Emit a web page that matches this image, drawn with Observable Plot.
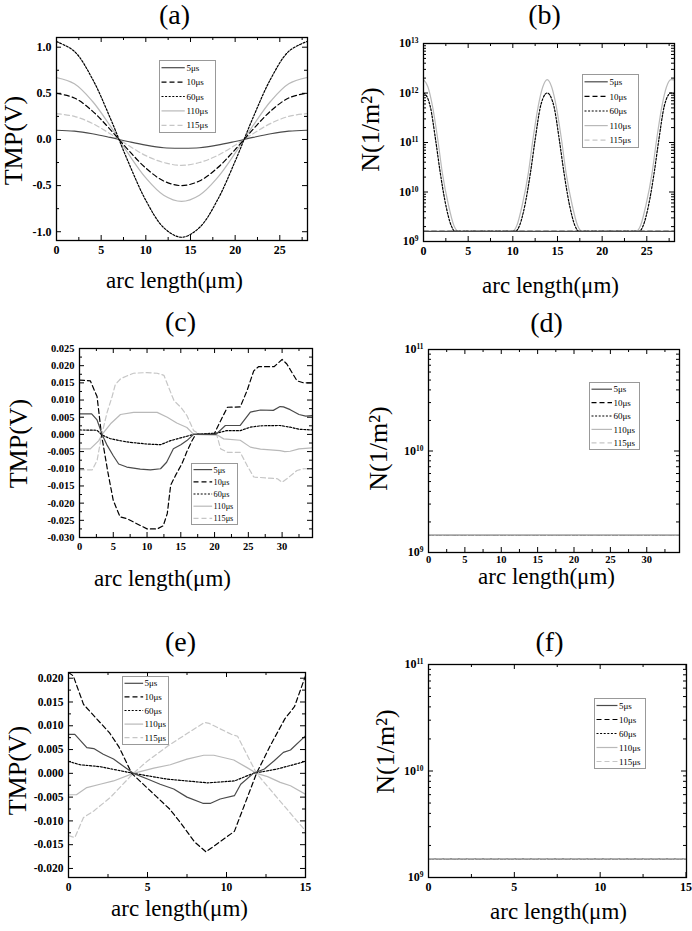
<!DOCTYPE html>
<html><head><meta charset="utf-8">
<script src="https://cdn.jsdelivr.net/npm/d3@7"></script>
<script src="https://cdn.jsdelivr.net/npm/@observablehq/plot@0.6"></script>
<style>
body{margin:0;background:#fff;}
#fig{position:relative;width:692px;height:931px;overflow:hidden;background:#fff;}
.panel,.legend{position:absolute;}
</style></head><body><div id="fig"></div>
<script>
// ---------- series definitions ----------
const seriesNames = ["5μs", "10μs", "60μs", "110μs", "115μs"];
const seriesColors = ["#4a4a4a", "#000000", "#000000", "#b9b9b9", "#c6c6c6"];
const seriesDash = [undefined, "5,3", "2,1.6", undefined, "5,3"];

// ---------- panel (a): TMP vs arc length, 28 µm ----------
const aX = [0, 2, 4, 6, 8, 10, 12, 14, 16, 18, 20, 22, 24, 26, 28];
const a5 = [0.10, 0.09, 0.062, 0.022, -0.022, -0.062, -0.09, -0.095, -0.09, -0.062, -0.022, 0.022, 0.062, 0.09, 0.10];
const a10 = [0.50, 0.45, 0.31, 0.11, -0.11, -0.31, -0.45, -0.50, -0.45, -0.31, -0.11, 0.11, 0.31, 0.45, 0.50];
const a60 = [1.06, 0.955, 0.66, 0.236, -0.236, -0.66, -0.955, -1.06, -0.955, -0.66, -0.236, 0.236, 0.66, 0.955, 1.06];
const a110 = [0.67, 0.604, 0.417, 0.149, -0.149, -0.417, -0.604, -0.67, -0.604, -0.417, -0.149, 0.149, 0.417, 0.604, 0.67];
const a115 = [0.28, 0.25, 0.175, 0.062, -0.062, -0.175, -0.25, -0.28, -0.25, -0.175, -0.062, 0.062, 0.175, 0.25, 0.28];

// ---------- panel (b): N vs arc length (log) ----------
const b110 = [[0,1.86e12],[0.5,1.32e12],[1.0,5.5e11],[1.6,1.15e11],[2.1,2.5e10],[2.8,5.4e9],[3.4,2.1e9],[3.9,1.6e9],
  [9.95,1.6e9],[10.45,2.1e9],[11.05,5.4e9],[11.75,2.5e10],[12.25,1.15e11],[12.85,5.5e11],[13.35,1.32e12],[13.85,1.86e12],
  [14.35,1.32e12],[14.85,5.5e11],[15.45,1.15e11],[15.95,2.5e10],[16.65,5.4e9],[17.25,2.1e9],[17.75,1.6e9],
  [23.8,1.6e9],[24.3,2.1e9],[24.9,5.4e9],[25.6,2.5e10],[26.1,1.15e11],[26.7,5.5e11],[27.2,1.32e12],[27.7,1.86e12],[28.1,1.84e12]];
const b60 = [[0,1e12],[0.5,7.6e11],[0.75,5.4e11],[1.35,1.15e11],[1.87,2.5e10],[2.5,5.4e9],[3.1,2.1e9],[3.55,1.6e9],
  [10.3,1.6e9],[10.75,2.1e9],[11.35,5.4e9],[11.98,2.5e10],[12.5,1.15e11],[13.1,5.4e11],[13.35,7.6e11],[13.85,1e12],
  [14.35,7.6e11],[14.6,5.4e11],[15.2,1.15e11],[15.72,2.5e10],[16.35,5.4e9],[16.95,2.1e9],[17.4,1.6e9],
  [24.15,1.6e9],[24.6,2.1e9],[25.2,5.4e9],[25.83,2.5e10],[26.35,1.15e11],[26.95,5.4e11],[27.2,7.6e11],[27.7,1e12],[28.1,9.5e11]];
const b5 = [[0,1.6e9],[28.1,1.6e9]];
const b10 = [[0,1.6e9],[28.1,1.6e9]];
const b115 = [[0,1.6e9],[28.1,1.6e9]];

// ---------- panel (c): TMP vs arc length, 34.5 µm ----------
const c5 = [[0,0.006],[1.8,0.006],[2.6,0.0042],[3.35,0.0],[4.1,-0.0032],[5,-0.0062],[5.8,-0.0086],[7,-0.0095],[9,-0.0101],[10.5,-0.0103],[12,-0.0100],[12.9,-0.0081],[13.9,-0.0042],[15,-0.003],[15.9,-0.0018],[16.9,0.0],[20.2,0.0],[21.6,0.0026],[23.8,0.0026],[25.3,0.0065],[26.8,0.0071],[28.7,0.007],[29.7,0.0081],[30.2,0.008],[31.2,0.0072],[32.5,0.0058],[33.5,0.0053],[34.5,0.0055]];
const c10 = [[0,0.0158],[1.6,0.0156],[2.6,0.011],[3.25,0.0],[4.2,-0.011],[5.0,-0.0192],[6.0,-0.024],[7.0,-0.0245],[8.0,-0.0255],[10,-0.0275],[11.5,-0.0275],[12.4,-0.0266],[13,-0.023],[13.5,-0.0148],[14.2,-0.012],[15.2,-0.0084],[15.9,-0.005],[16.7,-0.0017],[17.2,0.0],[19.9,0.0],[20.9,0.004],[21.9,0.0079],[23.8,0.008],[24.8,0.0127],[25.8,0.0185],[26.5,0.0197],[28.8,0.0197],[30,0.0218],[30.7,0.0205],[32.2,0.0156],[33.2,0.015],[34.5,0.015]];
const c60 = [[0,0.0013],[2.6,0.0012],[3.35,-0.0002],[4.5,-0.0012],[5.9,-0.0018],[7.4,-0.0023],[10,-0.0028],[12,-0.003],[13.5,-0.0018],[15.4,-0.0008],[16.9,0.0],[20.4,0.0004],[21.8,0.0011],[23.8,0.0011],[25.3,0.0021],[26.8,0.0025],[29.7,0.0026],[31.2,0.0021],[32.5,0.0015],[34.5,0.0013]];
const c110 = [[0,-0.0042],[1.6,-0.0042],[2.86,-0.0018],[3.35,0.0],[4.6,0.0031],[6.07,0.0058],[8,0.0064],[11.5,0.0064],[13,0.005],[14.4,0.0033],[15.9,0.002],[16.9,0.0],[20.4,-0.0002],[21.35,-0.0013],[23.8,-0.0017],[25.3,-0.0037],[26.8,-0.0043],[29.7,-0.0047],[30.4,-0.005],[31.2,-0.0049],[32.5,-0.0042],[34.5,-0.0039]];
const c115 = [[0,-0.0103],[1.9,-0.0103],[2.6,-0.0076],[3.3,0.0],[4.1,0.0065],[4.8,0.0108],[5.3,0.0145],[6.1,0.0162],[7,0.017],[8,0.0178],[10,0.018],[11.5,0.0178],[12.5,0.0172],[13.2,0.0137],[14,0.0098],[15,0.0079],[15.9,0.0055],[16.9,0.0011],[17.9,0.0],[20.3,0.0],[20.9,-0.0042],[21.9,-0.0052],[23.8,-0.0052],[24.8,-0.009],[25.8,-0.0124],[29.3,-0.0129],[30,-0.0139],[30.7,-0.0129],[32.2,-0.0105],[33.2,-0.01],[34.5,-0.01]];

// ---------- panel (d): N (log), all at floor ----------
const dFloor = [[0,1.5e9],[34.5,1.5e9]];

// ---------- panel (e): TMP vs arc length, 15 µm ----------
const e5 = [[0,0.0082],[0.4,0.0082],[1.16,0.0054],[1.6,0.0052],[2.2,0.004],[2.85,0.003],[4.1,0.0],[5,-0.0012],[5.8,-0.0023],[6.66,-0.0033],[7.5,-0.005],[8.5,-0.0063],[9,-0.0063],[9.6,-0.0054],[10.5,-0.0047],[10.9,-0.0023],[11.7,0.0],[12.4,0.0009],[13,0.0026],[13.6,0.0044],[14.05,0.0049],[15,0.0079]];
const e10 = [[0,0.0212],[0.3,0.0205],[0.95,0.0145],[2.6,0.0085],[3.2,0.0055],[4.0,0.0],[5.6,-0.005],[6.4,-0.0075],[7.0,-0.01],[8.0,-0.0145],[8.7,-0.0165],[10.5,-0.0122],[11.9,0.0],[12.8,0.006],[13.7,0.0115],[14.3,0.014],[15,0.0205]];
const e60 = [[0,0.0025],[0.74,0.0018],[2,0.0014],[4.1,0.0],[6.2,-0.0012],[8.8,-0.002],[10.5,-0.0016],[11.7,0.0],[13.2,0.0009],[15,0.0025]];
const e110 = [[0,-0.0045],[0.5,-0.0045],[1.16,-0.003],[2,-0.0023],[2.85,-0.0016],[4.1,0.0],[5.4,0.0011],[6.44,0.0018],[7.5,0.003],[8.56,0.0038],[9.2,0.0038],[10.46,0.0028],[11.3,0.0012],[11.9,0.0],[12.6,-0.0007],[13.4,-0.0019],[14.05,-0.0026],[15,-0.0044]];
const e115 = [[0,-0.0131],[0.4,-0.0135],[0.95,-0.0093],[1.6,-0.0079],[2.64,-0.0051],[4.1,0.0],[5.0,0.0026],[6.4,0.006],[8.6,0.0107],[8.9,0.0105],[10.3,0.0082],[10.7,0.0078],[11.9,0.0],[13.2,-0.0051],[15,-0.0121]];

// ---------- panel (f): N (log), all at floor ----------
const fFloor = [[0,1.5e9],[15.03,1.5e9]];

// ---------- ticks ----------
const xTicks28 = [0, 5, 10, 15, 20, 25];
const xMinor28 = [2.5, 7.5, 12.5, 17.5, 22.5, 27.5];
const yTicksA = [-1.0, -0.5, 0.0, 0.5, 1.0];
const yMinorA = [-0.75, -0.25, 0.25, 0.75];
const xTicks34 = [0, 5, 10, 15, 20, 25, 30];
const xMinor34 = [2.5, 7.5, 12.5, 17.5, 22.5, 27.5, 32.5];
const yTicksC = [-0.030, -0.025, -0.020, -0.015, -0.010, -0.005, 0.000, 0.005, 0.010, 0.015, 0.020, 0.025];
const yMinorC = [-0.0275, -0.0225, -0.0175, -0.0125, -0.0075, -0.0025, 0.0025, 0.0075, 0.0125, 0.0175, 0.0225];
const xTicks15 = [0, 5, 10, 15];
const xMinor15 = [2.5, 7.5, 12.5];
const yTicksE = [-0.020, -0.015, -0.010, -0.005, 0.000, 0.005, 0.010, 0.015, 0.020];
const yMinorE = [-0.0175, -0.0125, -0.0075, -0.0025, 0.0025, 0.0075, 0.0125, 0.0175];
const yTicksB = [1e9, 1e10, 1e11, 1e12, 1e13];
const yTicksDF = [1e9, 1e10, 1e11];

const xLabel = "arc length(μm)";
const yLabelTMP = "TMP(V)";
const yLabelN = "N(1/m²)";

// ---------- helpers ----------
const FONT = "'Liberation Serif','Times New Roman',serif";
const fig = d3.select("#fig");
const pairs = (xs, ys) => xs.map((x, i) => [x, ys[i]]);
const logMinor = (majors) => majors.slice(0, -1).flatMap(d => [2,3,4,5,6,7,8,9].map(k => k * d));
const fmtLog = d => "10^" + Math.round(Math.log10(d));

function panel(cfg) {
  const {left, top, width, height, m} = cfg;
  const fw = width - m.l - m.r, fh = height - m.t - m.b;
  const marks = [];
  cfg.order.forEach(k => {
    marks.push(Plot.line(cfg.series[k], {
      x: d => d[0], y: d => d[1], stroke: seriesColors[k], strokeWidth: 1.2,
      strokeDasharray: seriesDash[k], curve: cfg.curve || "linear", clip: true
    }));
  });
  const tickSet = (vals, len) => [
    Plot.tickX(vals.x, {x: d => d, insetTop: fh - len, stroke: "#000", strokeWidth: 1}),
    Plot.tickX(vals.x, {x: d => d, insetBottom: fh - len, stroke: "#000", strokeWidth: 1}),
    Plot.tickY(vals.y, {y: d => d, insetRight: fw - len, stroke: "#000", strokeWidth: 1}),
    Plot.tickY(vals.y, {y: d => d, insetLeft: fw - len, stroke: "#000", strokeWidth: 1})
  ];
  marks.push(...tickSet({x: cfg.xMajor, y: cfg.yMajor}, 5));
  marks.push(...tickSet({x: cfg.xMinor, y: cfg.yMinor}, 3));
  marks.push(Plot.frame({stroke: "#000", strokeWidth: 1.3}));
  marks.push(Plot.axisX({ticks: cfg.xMajor, tickSize: 0, tickPadding: cfg.xPad || 5, tickFormat: d => String(d),
    fontSize: cfg.tickFont, fontWeight: "bold", fontFamily: FONT, label: null}));
  marks.push(Plot.axisY({ticks: cfg.yMajor, tickSize: 0, tickPadding: 5, tickFormat: cfg.yFormat,
    fontSize: cfg.yTickFont || cfg.tickFont, fontWeight: "bold", fontFamily: FONT, label: null}));
  const fcx = m.l + fw / 2, fcy = m.t + fh / 2;
  const centered = {lineAnchor: "middle", textAnchor: "middle", fontFamily: FONT, fill: "#000"};
  marks.push(Plot.text([cfg.title], {text: d => d, frameAnchor: "top", ...centered,
    dx: cfg.titlePos[0] - left - fcx, dy: cfg.titlePos[1] - top - m.t, fontSize: 28}));
  marks.push(Plot.text([xLabel], {text: d => d, frameAnchor: "bottom", ...centered,
    dx: cfg.xLabPos[0] - left - fcx, dy: cfg.xLabPos[1] - top - (height - m.b), fontSize: 23}));
  marks.push(Plot.text([cfg.yLabel], {text: d => d, frameAnchor: "left", rotate: -90, ...centered,
    dx: cfg.yLabPos[0] - left - m.l, dy: cfg.yLabPos[1] - top - fcy, fontSize: 26}));

  const svg = Plot.plot({
    width, height, marginLeft: m.l, marginRight: m.r, marginTop: m.t, marginBottom: m.b,
    x: {domain: cfg.xDomain, axis: null},
    y: {domain: cfg.yDomain, type: cfg.log ? "log" : "linear", axis: null},
    style: {fontFamily: FONT, background: "transparent", overflow: "visible", color: "#000"},
    marks
  });
  const sel = d3.select(svg);
  sel.selectAll("g[aria-label$='tick label']").attr("font-weight", "bold").style("font-weight", "bold")
    .attr("fill", "#000").selectAll("text").style("font-weight", "bold");
  sel.selectAll("text").each(function() {
    const t = this.textContent;
    if (t.includes("^")) {
      const [b, e] = t.split("^");
      const s = d3.select(this);
      s.text(null);
      s.append("tspan").text(b);
      s.append("tspan").attr("dy", "-0.55em").attr("font-size", "0.62em").text(e);
    }
  });
  fig.append("div").attr("class", "panel").style("left", left + "px").style("top", top + "px").node().appendChild(svg);
}

function legend(box) {
  const [x, y, w, h] = box;
  const svg = fig.append("svg").attr("class", "legend")
    .style("left", x + "px").style("top", y + "px").attr("width", w + 1).attr("height", h + 1);
  svg.append("rect").attr("x", 0.5).attr("y", 0.5).attr("width", w).attr("height", h)
    .attr("fill", "#fff").attr("stroke", "#999").attr("stroke-width", 1);
  const fs = Math.min(9, h / 5 * 0.68);
  seriesNames.forEach((n, i) => {
    const cy = 0.5 + h * (i + 0.5) / 5;
    svg.append("line").attr("x1", 2.5).attr("x2", w * 0.46).attr("y1", cy).attr("y2", cy)
      .attr("stroke", seriesColors[i]).attr("stroke-width", 1.2)
      .attr("stroke-dasharray", seriesDash[i] || null);
    svg.append("text").attr("x", w * 0.49).attr("y", cy).attr("dy", "0.35em")
      .attr("font-family", FONT).attr("font-size", fs).attr("fill", "#000").text(n);
  });
}

// ---------- build panels ----------
panel({
  title: "(a)", left: 0, top: 0, width: 346, height: 300, m: {l: 56, r: 39, t: 37, b: 60},
  xDomain: [0, 28.1], yDomain: [-1.095, 1.105],
  series: [pairs(aX, a5), pairs(aX, a10), pairs(aX, a60), pairs(aX, a110), pairs(aX, a115)],
  order: [4, 3, 1, 0, 2], curve: "catmull-rom",
  xMajor: xTicks28, xMinor: xMinor28, yMajor: yTicksA, yMinor: yMinorA,
  yFormat: d => d.toFixed(1), tickFont: 12,
  titlePos: [174, 15], xLabPos: [174, 280], yLabPos: [13, 140], yLabel: yLabelTMP
});
panel({
  title: "(b)", left: 346, top: 0, width: 346, height: 300, m: {l: 77, r: 18, t: 43, b: 59},
  xDomain: [0, 28.1], yDomain: [1e9, 1e13], log: true,
  series: [b5, b10, b60, b110, b115],
  order: [4, 3, 2, 1, 0], curve: "monotone-x",
  xMajor: xTicks28, xMinor: xMinor28, yMajor: yTicksB, yMinor: logMinor(yTicksB),
  yFormat: fmtLog, tickFont: 12, yTickFont: 12,
  titlePos: [544, 15], xLabPos: [550, 285], yLabPos: [370, 129], yLabel: yLabelN
});
panel({
  title: "(c)", left: 0, top: 300, width: 346, height: 310, m: {l: 79, r: 34, t: 48, b: 73},
  xDomain: [0, 34.5], yDomain: [-0.030, 0.025],
  series: [c5, c10, c60, c110, c115],
  order: [4, 3, 2, 1, 0], curve: "linear",
  xMajor: xTicks34, xMinor: xMinor34, yMajor: yTicksC, yMinor: yMinorC,
  yFormat: d => d.toFixed(3), tickFont: 10.5,
  titlePos: [180, 322], xLabPos: [162, 578], yLabPos: [18, 443], yLabel: yLabelTMP
});
panel({
  title: "(d)", left: 346, top: 300, width: 346, height: 310, m: {l: 82, r: 13, t: 49, b: 58},
  xDomain: [0, 34.5], yDomain: [1e9, 1e11], log: true,
  series: [dFloor, dFloor, dFloor, dFloor, dFloor],
  order: [0, 1, 2, 4, 3],
  xMajor: xTicks34, xMinor: xMinor34, yMajor: yTicksDF, yMinor: logMinor(yTicksDF),
  yFormat: fmtLog, tickFont: 10.5, yTickFont: 12, xPad: 3,
  titlePos: [546, 323], xLabPos: [546, 576], yLabPos: [378, 448], yLabel: yLabelN
});
panel({
  title: "(e)", left: 0, top: 610, width: 346, height: 321, m: {l: 68, r: 41, t: 62, b: 54},
  xDomain: [0, 15], yDomain: [-0.0219, 0.0212],
  series: [e5, e10, e60, e110, e115],
  order: [4, 3, 2, 1, 0], curve: "linear",
  xMajor: xTicks15, xMinor: xMinor15, yMajor: yTicksE, yMinor: yMinorE,
  yFormat: d => d.toFixed(3), tickFont: 11.5,
  titlePos: [180, 642], xLabPos: [179, 908], yLabPos: [17, 770], yLabel: yLabelTMP
});
panel({
  title: "(f)", left: 346, top: 610, width: 346, height: 321, m: {l: 82, r: 6, t: 54, b: 54},
  xDomain: [0, 15.03], yDomain: [1e9, 1e11], log: true,
  series: [fFloor, fFloor, fFloor, fFloor, fFloor],
  order: [0, 1, 2, 4, 3],
  xMajor: xTicks15, xMinor: xMinor15, yMajor: yTicksDF, yMinor: logMinor(yTicksDF),
  yFormat: fmtLog, tickFont: 12, yTickFont: 12,
  titlePos: [549, 642], xLabPos: [558, 911], yLabPos: [385, 751], yLabel: yLabelN
});

// ---------- legends ----------
legend([159, 60, 56, 72]);
legend([582, 74, 56, 73]);
legend([191, 463, 46, 61]);
legend([589, 382, 50, 67]);
legend([122, 676, 46, 68]);
legend([594, 698, 51, 70]);
</script></body></html>
